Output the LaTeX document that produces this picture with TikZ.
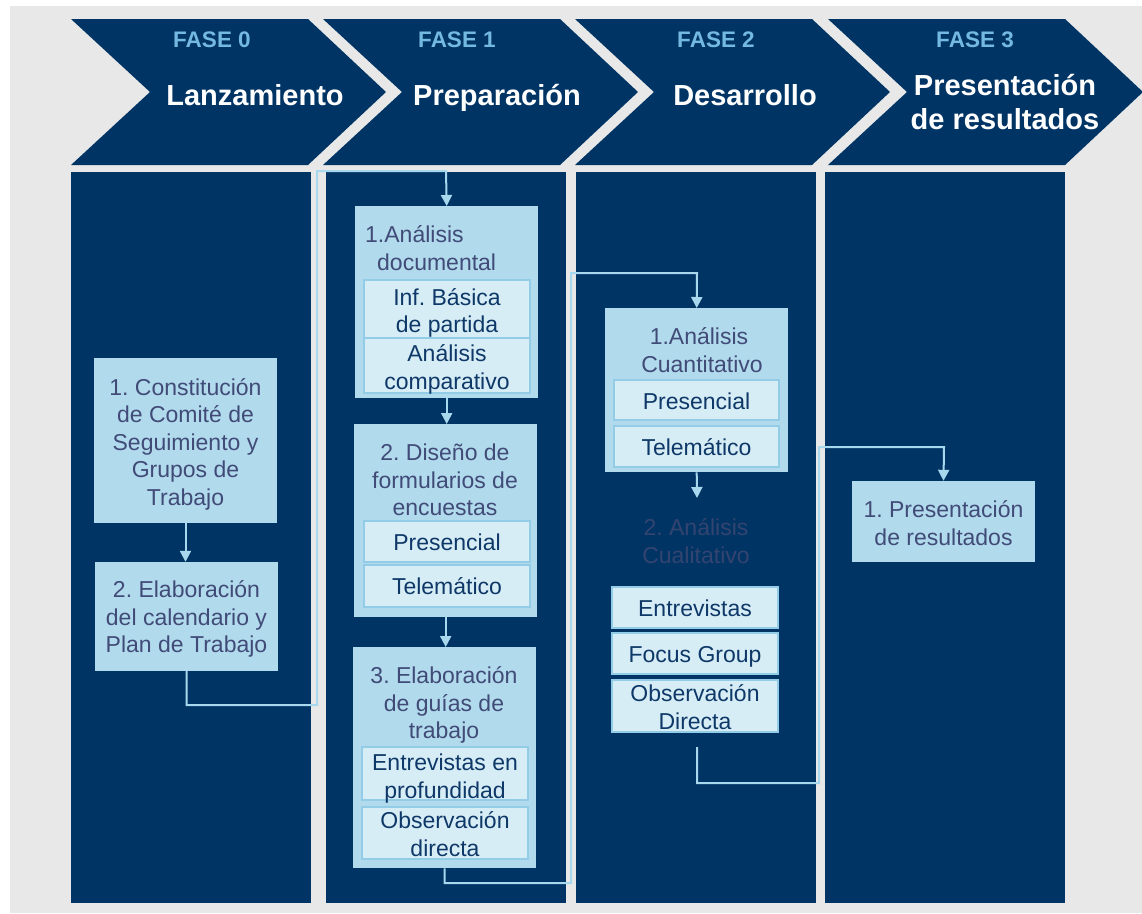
\documentclass[tikz,border=0pt]{standalone}
\usepackage{fontspec}
\setmainfont{Liberation Sans}
\usetikzlibrary{arrows.meta}
\definecolor{navy}{RGB}{0,52,101}
\definecolor{bggray}{RGB}{232,232,232}
\definecolor{boxblue}{RGB}{177,218,236}
\definecolor{innerblue}{RGB}{215,237,246}
\definecolor{innerline}{RGB}{146,204,231}
\definecolor{titletext}{RGB}{65,75,120}
\definecolor{innertext}{RGB}{14,56,104}
\definecolor{qualtext}{RGB}{52,68,112}
\definecolor{connblue}{RGB}{168,216,238}
\definecolor{faseblue}{RGB}{116,185,224}
\frenchspacing
\newcommand\bxfnt{\fontsize{23}{27.5}\selectfont\frenchspacing}
\newcommand\fasefnt{\fontsize{22.5}{27}\selectfont\bfseries}
\newcommand\phasefnt{\fontsize{29}{34}\selectfont\bfseries}
% #1 text dy, #2 shape style, #3 text style, #4 name, #5-#8 corners, #9 text
\newcommand\rbox[9][0]{%
  \node[#2, minimum width={#7pt-#5pt}, minimum height={#8pt-#6pt}] (#4) at ({(#5+#7)/2},{(#6+#8)/2}) {};
  \node[#3] (#4t) at ({(#5+#7)/2},{(#6+#8)/2+#1}) {#9};}
\tikzset{
  outerbox/.style={fill=boxblue, draw=none, inner sep=0pt},
  innerbox/.style={fill=innerblue, draw=innerline, line width=1.5pt, inner sep=0pt},
  column/.style={fill=navy, draw=none, inner sep=0pt},
  titletxt/.style={text=titletext, font=\bxfnt, align=center, inner sep=0pt},
  innertxt/.style={text=innertext, font=\bxfnt, align=center, inner sep=0pt},
  qualtxt/.style={text=qualtext, font=\bxfnt, align=center, inner sep=0pt},
  conn/.style={draw=connblue, line width=2pt},
  arr/.style={conn, -{Triangle[width=11pt,length=11pt]}},
  fase/.style={text=faseblue, font=\fasefnt, inner sep=0pt},
  phase/.style={text=white, font=\phasefnt, align=center, inner sep=0pt},
  chev/.style={fill=navy, draw=none}
}
\begin{document}
\begin{tikzpicture}[x=1pt,y=-1pt]
\useasboundingbox (0,0) rectangle (1142,913);
\fill[white] (0,0) rectangle (1142,913);
\fill[bggray] (10,6) rectangle (1142,913);
% chevrons
\foreach \s in {71,323,575,828}{
  \fill[chev] (\s,19) -- ({\s+237},19) -- ({\s+315},92) -- ({\s+237},165) -- (\s,165) -- ({\s+79},92) -- cycle;
}
\node[fase] (f0) at (212,40) {FASE 0};
\node[phase] (p0) at (255,95) {Lanzamiento};
\node[fase] (f1) at (457,40) {FASE 1};
\node[phase] (p1) at (497,98) {Preparación};
\node[fase] (f2) at (716,40) {FASE 2};
\node[phase] (p2) at (745,95) {Desarrollo};
\node[fase] (f3) at (975,40) {FASE 3};
\node[phase] (p3) at (1005,102) {Presentación\\de resultados};
% columns
\node[column, minimum width=240pt, minimum height=731pt, anchor=north west] (col0) at (71,172) {};
\node[column, minimum width=240pt, minimum height=731pt, anchor=north west] (col1) at (326,172) {};
\node[column, minimum width=240pt, minimum height=731pt, anchor=north west] (col2) at (576,172) {};
\node[column, minimum width=240pt, minimum height=731pt, anchor=north west] (col3) at (825,172) {};
% column 0
\rbox[3.5]{outerbox}{titletxt}{c0a}{94}{358}{277}{523}{1. Constitución\\de Comité de\\Seguimiento y\\Grupos de\\Trabajo}
\rbox[2.5]{outerbox}{titletxt}{c0b}{95}{562}{278}{671}{2. Elaboración\\del calendario y\\Plan de Trabajo}
% column 1
\node[outerbox, minimum width=183pt, minimum height=192pt, anchor=north west] (A) at (355,206) {};
\node[titletxt, align=left, anchor=west] (tA) at (365,248) {1.Análisis\\\hspace*{12pt}documental};
\rbox[4]{innerbox}{innertxt}{A1}{364}{280}{530}{338}{Inf. Básica\\de partida}
\rbox[4]{innerbox}{innertxt}{A2}{364}{338}{530}{393}{Análisis\\comparativo}
\node[outerbox, minimum width=183pt, minimum height=193pt, anchor=north west] (B) at (354,424) {};
\node[titletxt] (tB) at (445,480) {2. Diseño de\\formularios de\\encuestas};
\rbox[0.5]{innerbox}{innertxt}{B1}{364}{521}{530}{562}{Presencial}
\rbox[0.5]{innerbox}{innertxt}{B2}{364}{565}{530}{607}{Telemático}
\node[outerbox, minimum width=183pt, minimum height=221pt, anchor=north west] (C) at (353,647) {};
\node[titletxt] (tC) at (444,705) {3. Elaboración\\de guías de\\trabajo};
\rbox[5]{innerbox}{innertxt}{C1}{362}{747}{528}{800}{Entrevistas en\\profundidad}
\rbox[1]{innerbox}{innertxt}{C2}{362}{807}{528}{859}{Observación\\directa}
% column 2
\node[outerbox, minimum width=183pt, minimum height=164pt, anchor=north west] (D) at (605,308) {};
\node[titletxt] (tD) at (699,350) {1.Análisis\\\hspace*{6pt}Cuantitativo};
\rbox[1]{innerbox}{innertxt}{D1}{614}{380}{779}{420}{Presencial}
\rbox[1]{innerbox}{innertxt}{D2}{614}{426}{779}{467}{Telemático}
\node[qualtxt] (Q) at (696,541) {2. Análisis\\Cualitativo};
\rbox[1]{innerbox}{innertxt}{Q1}{612}{587}{778}{628}{Entrevistas}
\rbox[3]{innerbox}{innertxt}{Q2}{612}{633}{778}{674}{Focus Group}
\rbox[1]{innerbox}{innertxt}{Q3}{612}{680}{778}{732}{Observación\\Directa}
% column 3
\rbox[1.5]{outerbox}{titletxt}{E}{852}{481}{1035}{562}{1. Presentación\\de resultados}
% connectors
\draw[arr] (c0a.south) -- (c0a.south |- c0b.north);
\draw[arr] (c0b.south) |- (317,705) |- (446,171) -- (A.north);
\draw[arr] (A.south) -- (A.south |- B.north);
\draw[arr] (B.south) -- (B.south |- C.north);
\draw[arr] (C.south) |- (571,883) |- (697,273) -- (D.north);
\coordinate (qin) at (697,498);
\draw[arr] (D.south) -- (qin);
\coordinate (qout) at (697,747);
\draw[arr] (qout) |- (819,783) |- (944,447) -- (E.north);
\end{tikzpicture}
\end{document}
